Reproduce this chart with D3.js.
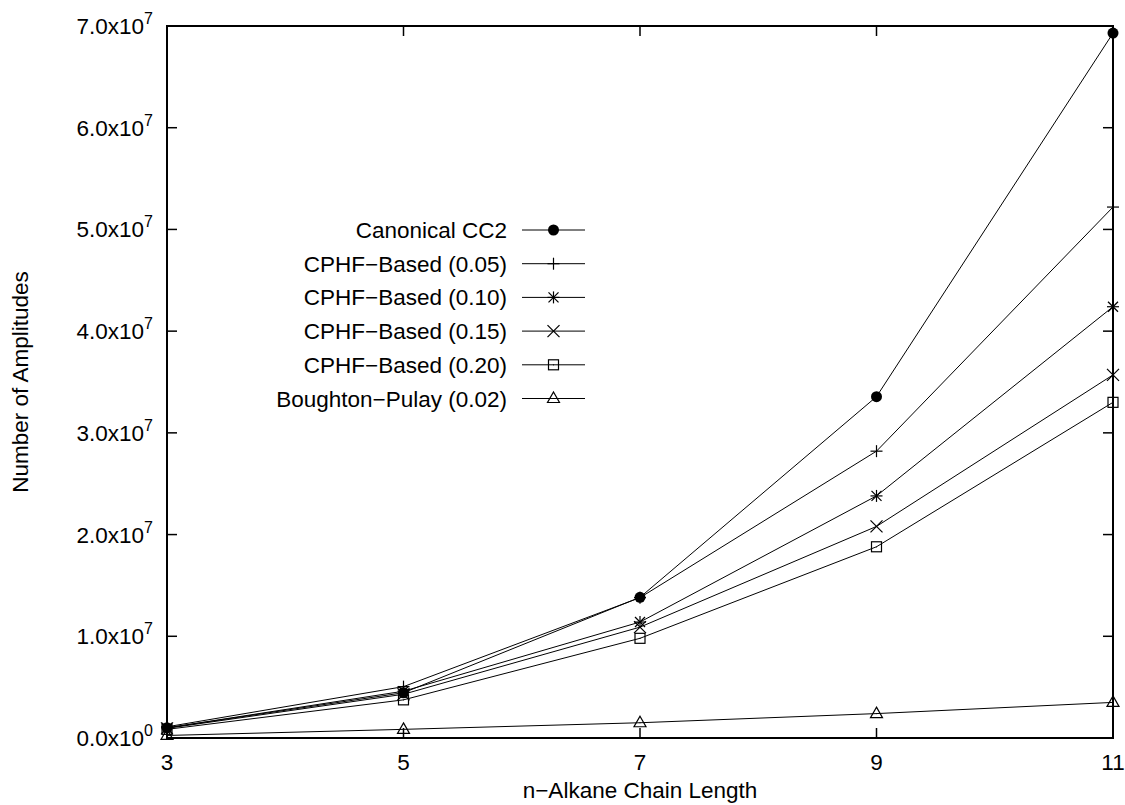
<!DOCTYPE html>
<html><head><meta charset="utf-8">
<script src="https://cdn.jsdelivr.net/npm/d3@7"></script>
<style>body{margin:0;background:#fff}svg{display:block}text{font-family:"Liberation Sans",Arial,Helvetica,sans-serif;fill:#000}</style>
</head><body><svg id="c" width="1125" height="805"></svg>
<script>
const xValues = [3, 5, 7, 9, 11];
const seriesNames = ["Canonical CC2","CPHF\u2212Based (0.05)","CPHF\u2212Based (0.10)","CPHF\u2212Based (0.15)","CPHF\u2212Based (0.20)","Boughton\u2212Pulay (0.02)"];
const seriesMarkers = ["circle","plus","star","cross","square","triangle"];
const canonical = [1.0e6, 4.45e6, 1.383e7, 3.356e7, 6.93e7];
const cphf05 = [1.1e6, 5.05e6, 1.38e7, 2.82e7, 5.22e7];
const cphf10 = [1.0e6, 4.6e6, 1.14e7, 2.38e7, 4.24e7];
const cphf15 = [0.95e6, 4.3e6, 1.09e7, 2.08e7, 3.57e7];
const cphf20 = [0.85e6, 3.75e6, 0.98e7, 1.88e7, 3.30e7];
const boughton = [0.25e6, 0.85e6, 1.5e6, 2.4e6, 3.5e6];
const xTicks = [3, 5, 7, 9, 11];
const yTicks = [0, 1e7, 2e7, 3e7, 4e7, 5e7, 6e7, 7e7];
const xTitle = "n\u2212Alkane Chain Length";
const yTitle = "Number of Amplitudes";

const series = [canonical, cphf05, cphf10, cphf15, cphf20, boughton];
const L = 167, R = 1113, T = 26, B = 738;
const svg = d3.select("#c");
const x = d3.scaleLinear().domain([3, 11]).range([L, R]);
const y = d3.scaleLinear().domain([0, 7e7]).range([B, T]);
const FS = 22.5;

// ticks (inward, mirrored)
const tl = 10;
const g = svg.append("g").attr("stroke","#000").attr("stroke-width",1.5);
yTicks.forEach(v => {
  g.append("line").attr("x1",L).attr("x2",L+tl).attr("y1",y(v)).attr("y2",y(v));
  g.append("line").attr("x1",R).attr("x2",R-tl).attr("y1",y(v)).attr("y2",y(v));
});
xTicks.forEach(v => {
  g.append("line").attr("x1",x(v)).attr("x2",x(v)).attr("y1",B).attr("y2",B-tl);
  g.append("line").attr("x1",x(v)).attr("x2",x(v)).attr("y1",T).attr("y2",T+tl);
});

// y tick labels
yTicks.forEach(v => {
  const exp = v === 0 ? 0 : Math.floor(Math.log10(v));
  const mant = v === 0 ? 0 : v / Math.pow(10, exp);
  const t = svg.append("text").attr("x", 153).attr("y", y(v) + 8).attr("text-anchor","end").attr("font-size", FS);
  t.append("tspan").text(mant.toFixed(1) + "x10");
  t.append("tspan").attr("font-size", 16).attr("dy", -10).text(exp);
});
// x tick labels
xTicks.forEach(v => {
  svg.append("text").attr("x", x(v)).attr("y", 770).attr("text-anchor","middle").attr("font-size", FS).text(v);
});
// axis titles
svg.append("text").attr("x", (L+R)/2).attr("y", 798).attr("text-anchor","middle").attr("font-size", FS).text(xTitle);
svg.append("text").attr("transform", `translate(28,${(T+B)/2}) rotate(-90)`).attr("text-anchor","middle").attr("font-size", FS).text(yTitle);

// marker drawing
function marker(sel, type, cx, cy) {
  const s = 6;
  const m = sel.append("g").attr("transform", `translate(${cx},${cy})`).attr("stroke","#000").attr("stroke-width",1.2).attr("fill","none");
  if (type === "circle") m.append("circle").attr("r",5.5).attr("fill","#000").attr("stroke","none");
  if (type === "plus" || type === "star") {
    m.append("line").attr("x1",-s).attr("x2",s).attr("y1",0).attr("y2",0);
    m.append("line").attr("x1",0).attr("x2",0).attr("y1",-s).attr("y2",s);
  }
  if (type === "cross" || type === "star") {
    const d = type === "star" ? 5 : 6;
    m.append("line").attr("x1",-d).attr("x2",d).attr("y1",-d).attr("y2",d);
    m.append("line").attr("x1",-d).attr("x2",d).attr("y1",d).attr("y2",-d);
  }
  if (type === "square") {
    m.append("rect").attr("x",-5).attr("y",-5).attr("width",10).attr("height",10);
    m.append("circle").attr("r",0.6).attr("fill","#000").attr("stroke","none");
  }
  if (type === "triangle") {
    m.append("path").attr("d","M0,-6.5L6,4L-6,4Z");
    m.append("circle").attr("r",0.6).attr("fill","#000").attr("stroke","none");
  }
}

const line = d3.line().x((d,i) => x(xValues[i])).y(d => y(d));
const dg = svg.append("g");
series.forEach((s, k) => {
  dg.append("path").datum(s).attr("d", line).attr("fill","none").attr("stroke","#000").attr("stroke-width",1);
  s.forEach((v,i) => marker(dg, seriesMarkers[k], x(xValues[i]), y(v)));
});

// legend
const lg = svg.append("g");
seriesNames.forEach((n, k) => {
  const ly = 230 + k * 33.7;
  lg.append("text").attr("x", 507).attr("y", ly + 8).attr("text-anchor","end").attr("font-size", FS).text(n);
  lg.append("line").attr("x1",522).attr("x2",585).attr("y1",ly).attr("y2",ly).attr("stroke","#000").attr("stroke-width",1);
  marker(lg, seriesMarkers[k], 553.5, ly);
});

// border
svg.append("rect").attr("x",L).attr("y",T).attr("width",R-L).attr("height",B-T).attr("fill","none").attr("stroke","#000").attr("stroke-width",2);
</script></body></html>
